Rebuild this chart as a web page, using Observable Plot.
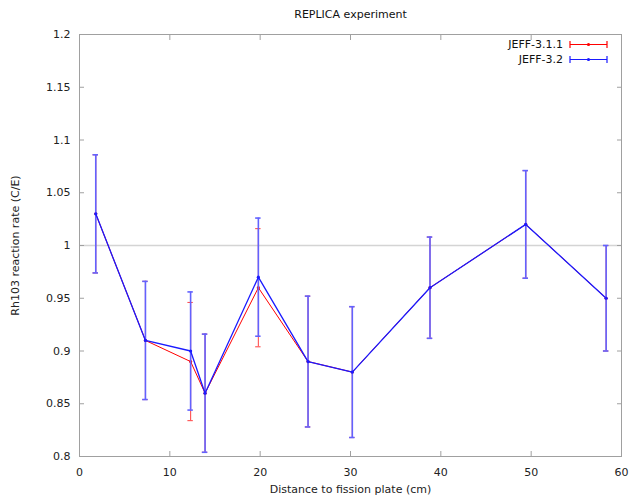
<!DOCTYPE html>
<html><head><meta charset="utf-8">
<script src="https://cdn.jsdelivr.net/npm/d3@7"></script>
<script src="https://cdn.jsdelivr.net/npm/@observablehq/plot@0.6"></script>
<style>
body{margin:0;background:#fff;font-family:"DejaVu Sans",sans-serif}
#wrap{position:relative;width:635px;height:499px}
#legend{position:absolute;left:480px;top:37px;font:11px "DejaVu Sans",sans-serif;color:#111}
#legend .row{display:flex;align-items:center;justify-content:flex-end;height:15px;width:128px}
#legend svg{margin-left:6px}
</style>
</head><body><div id="wrap"><div id="legend"></div></div>
<script>
const title = "REPLICA experiment";
const xLabel = "Distance to fission plate (cm)";
const yLabel = "Rh103 reaction rate (C/E)";
const seriesNames = ["JEFF-3.1.1", "JEFF-3.2"];
const seriesColors = ["#ff0000", "#1a1aff"];
const barColors = ["#ff5050", "#6262ff"];
const lineWidths = [1, 1.3];
const barWidths = [1.1, 1.6];
const distance = [1.8, 7.3, 12.3, 13.9, 19.8, 25.3, 30.2, 38.8, 49.4, 58.3];
const jeff311 = [1.03, 0.91, 0.89, 0.86, 0.96, 0.89, 0.88, 0.96, 1.02, 0.95];
const err311  = [0.056, 0.056, 0.056, 0.056, 0.056, 0.062, 0.062, 0.048, 0.051, 0.05];
const jeff32  = [1.03, 0.91, 0.90, 0.86, 0.97, 0.89, 0.88, 0.96, 1.02, 0.95];
const err32   = [0.056, 0.056, 0.056, 0.056, 0.056, 0.062, 0.062, 0.048, 0.051, 0.05];
const xTicks = [0, 10, 20, 30, 40, 50, 60];
const yTicks = [0.8, 0.85, 0.9, 0.95, 1, 1.05, 1.1, 1.15, 1.2];

const rows = (vals, errs, name) => distance.map((x, i) => ({x, y: vals[i], e: errs[i], name}));
const series = [rows(jeff311, err311, seriesNames[0]), rows(jeff32, err32, seriesNames[1])];
const capHalf = 0.3;

const marks = [
  Plot.ruleY([1], {stroke: "#d4d4d4", strokeWidth: 1.5}),
  Plot.frame({stroke: "#a0a0a0"}),
  Plot.axisX({anchor: "bottom", ticks: xTicks, tickSize: -5, tickPadding: 17, stroke: "#a0a0a0", color: "#222", fontSize: 11, label: xLabel, labelAnchor: "center", labelArrow: "none", labelOffset: 36}),
  Plot.axisX({anchor: "top", ticks: xTicks, tickSize: -5, stroke: "#a0a0a0", tickFormat: () => "", label: null}),
  Plot.axisY({anchor: "left", ticks: yTicks, tickSize: -5, tickPadding: 14, stroke: "#a0a0a0", color: "#222", fontSize: 11, tickFormat: d => String(+d.toFixed(2)), label: yLabel, labelAnchor: "center", labelArrow: "none", labelOffset: 68}),
  Plot.axisY({anchor: "right", ticks: yTicks, tickSize: -5, stroke: "#a0a0a0", tickFormat: () => "", label: null}),
  Plot.text([title], {frameAnchor: "top", dy: -24, fontSize: 11, fill: "#111"})
];
series.forEach((data, k) => {
  const c = seriesColors[k];
  const bar = {stroke: barColors[k], strokeWidth: barWidths[k]};
  marks.push(
    Plot.ruleX(data, {x: "x", y1: d => d.y - d.e, y2: d => d.y + d.e, ...bar}),
    Plot.ruleY(data, {y: d => d.y - d.e, x1: d => d.x - capHalf, x2: d => d.x + capHalf, ...bar}),
    Plot.ruleY(data, {y: d => d.y + d.e, x1: d => d.x - capHalf, x2: d => d.x + capHalf, ...bar}),
    Plot.line(data, {x: "x", y: "y", stroke: c, strokeWidth: lineWidths[k]}),
    Plot.dot(data, {x: "x", y: "y", r: 1.6, fill: c, stroke: "none"})
  );
});

const chart = Plot.plot({
  width: 635, height: 499,
  marginLeft: 79, marginRight: 14, marginTop: 34, marginBottom: 43,
  style: {fontFamily: "DejaVu Sans, sans-serif", fontSize: "11px", background: "#fff"},
  x: {domain: [0, 60]},
  y: {domain: [0.8, 1.2]},
  marks
});
document.getElementById("wrap").prepend(chart);

const legend = document.getElementById("legend");
seriesNames.forEach((n, k) => {
  const row = document.createElement("div");
  row.className = "row";
  const c = seriesColors[k];
  row.innerHTML = `<span>${n}</span><svg width="39" height="9"><g stroke="${c}" stroke-width="1.2"><line x1="1" y1="4.5" x2="38" y2="4.5"/><line x1="1" y1="1" x2="1" y2="8"/><line x1="38" y1="1" x2="38" y2="8"/></g><circle cx="19.5" cy="4.5" r="1.6" fill="${c}"/></svg>`;
  legend.appendChild(row);
});
</script>
</body></html>
